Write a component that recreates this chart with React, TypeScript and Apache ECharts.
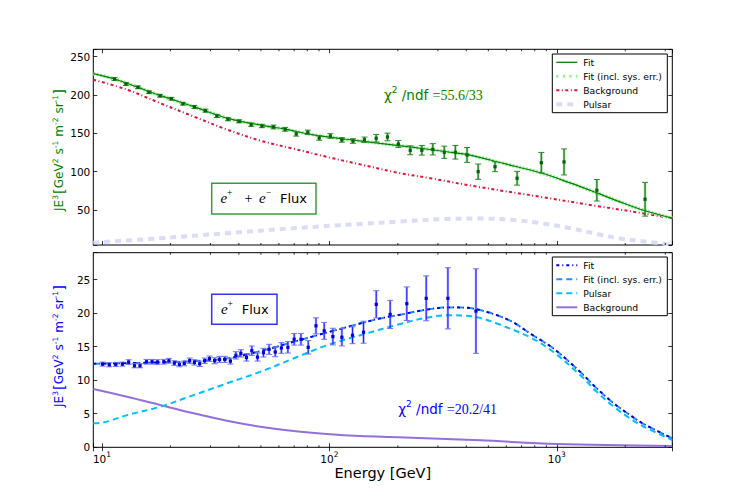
import React, { useEffect, useRef } from 'react';
import * as echarts from 'echarts';

// ---------- axis ranges / ticks ----------
const E_MIN = 9.16;
const E_MAX = 3220;
const TOP_Y_MIN = 4.3;
const TOP_Y_MAX = 259.7;
const BOT_Y_MIN = 0;
const BOT_Y_MAX = 29;
const minorTickE = [20, 30, 40, 50, 60, 70, 80, 90, 200, 300, 400, 500, 600, 700, 800, 900, 2000, 3000];

// ---------- top panel: e+ + e- flux ----------
const eTop = [11.36, 12.75, 14.4, 16.1, 18.0, 20.2, 22.7, 25.5, 28.5, 32.0, 35.8, 40.1, 45.3, 50.5, 56.8, 63.9, 71.5, 80.4, 90.2, 101, 113.5, 127, 142.6, 160.6, 180, 201, 226.7, 255, 285, 320, 358, 403, 451, 535, 669, 855, 1076, 1500, 2444];
const fluxTop = [220.9, 214.4, 210.1, 203.6, 199.1, 195.2, 188.7, 184.4, 179.6, 172.7, 168.4, 165.7, 161.3, 159.6, 158.3, 155.3, 149.2, 151.4, 144.0, 146.6, 141.4, 140.0, 141.7, 143.6, 145.3, 136.1, 127.9, 127.9, 129.2, 125.3, 125.3, 121.8, 100.0, 106.5, 91.4, 111.7, 112.7, 75.7, 64.0];
const errTop = [1.8, 1.8, 1.8, 1.8, 1.8, 1.8, 1.8, 2, 2, 2, 2, 2, 2.2, 2.2, 2.5, 2.5, 2.8, 2.8, 3, 3, 3, 3, 3.5, 5, 5, 4.5, 5.8, 6.3, 7.4, 8, 8.9, 9.7, 10, 6.5, 9, 13.4, 17, 14, 22];

const fitTopE = [9.16, 11.36, 14.4, 18, 25.5, 35.8, 50.5, 63.9, 85, 119, 167, 234, 328, 416, 582, 855, 1146, 1500, 1873, 2444, 3220];
const fitTopV = [228, 221, 210, 199.5, 184.5, 169.5, 160.5, 155.5, 148, 142.3, 137, 131.8, 126, 121.6, 110.8, 98.3, 85.3, 72.3, 61.2, 49, 39.3];

const bkgTopE = [9.16, 12.9, 18, 25.3, 35.4, 49.7, 69.5, 97.5, 136.6, 201, 277, 445, 855, 1500, 2444, 3220];
const bkgTopV = [220, 207, 189.5, 172, 155, 140.5, 130, 119.3, 109.5, 98.5, 91.5, 80.5, 67, 55.2, 45.2, 39];

const pulTopE = [9.16, 18, 35.4, 69.5, 136.6, 201, 328, 460, 645, 855, 1146, 1500, 1873, 2444, 3220];
const pulTopV = [7.4, 13.1, 19.7, 26.2, 31.8, 34.8, 38.3, 38.8, 37, 32.7, 26.2, 18.8, 13.1, 8.7, 4.8];

// ---------- bottom panel: e+ flux ----------
const eBot = [10.06, 10.77, 11.5, 12.3, 13.1, 13.9, 14.7, 15.7, 16.6, 17.55, 18.7, 19.7, 20.8, 21.9, 23.0, 24.3, 25.5, 26.9, 28.3, 29.7, 31.3, 32.9, 34.7, 36.7, 38.8, 40.8, 43.2, 45.6, 48.3, 51.3, 54.3, 57.8, 61.5, 65.7, 70.0, 75.0, 80.7, 87.3, 94.9, 103.6, 113.5, 126.4, 141.3, 160.7, 185, 219, 266.5, 332, 441];
const fluxBot = [12.4, 12.3, 12.35, 12.4, 12.7, 12.15, 12.15, 12.75, 12.75, 12.7, 12.75, 12.9, 12.55, 12.35, 12.5, 12.9, 12.65, 12.45, 12.9, 13.2, 12.9, 13.1, 13.1, 12.85, 13.7, 14.0, 13.4, 14.4, 13.45, 14.1, 14.6, 14.2, 14.8, 14.9, 16.1, 16.1, 14.9, 18.1, 17.35, 16.5, 16.4, 16.7, 17.15, 21.3, 19.8, 21.4, 22.2, 22.2, 20.3];
const errBot = [0.3, 0.3, 0.3, 0.3, 0.35, 0.3, 0.3, 0.35, 0.35, 0.35, 0.35, 0.35, 0.35, 0.35, 0.35, 0.4, 0.4, 0.4, 0.4, 0.4, 0.45, 0.45, 0.45, 0.45, 0.55, 0.55, 0.55, 0.7, 0.6, 0.65, 0.75, 0.7, 0.8, 0.85, 0.87, 0.87, 1.0, 1.19, 1.26, 1.24, 1.29, 1.26, 1.64, 2.03, 2.1, 2.5, 3.35, 4.56, 6.3];

const fitBotE = [9.16, 18, 25.3, 35.4, 49.7, 69.5, 97.5, 136.6, 167, 201, 265.6, 332.7, 402, 460, 545, 645, 763, 966, 1266, 1499, 1774, 2099, 2403, 3220];
const fitBotV = [12.45, 12.65, 12.84, 13.24, 14.33, 15.71, 17.1, 18.45, 19.2, 19.7, 20.5, 20.85, 20.8, 20.45, 19.69, 18.6, 16.96, 14.73, 11.25, 8.78, 6.6, 4.8, 3.5, 1.34];

const pulBotE = [9.16, 10.06, 12.9, 18, 25.3, 35.4, 49.7, 69.5, 97.5, 136.6, 201, 265.6, 332.7, 402, 460, 545, 763, 966, 1266, 1499, 1774, 2099, 2403, 3220];
const pulBotV = [3.57, 3.66, 4.8, 6.04, 7.78, 9.52, 11.25, 13.24, 15.2, 16.7, 18.3, 19.29, 19.69, 19.6, 19.29, 18.45, 16.4, 14.2, 10.76, 8.27, 6.1, 4.3, 3.1, 1.09];

const bkgBotE = [9.16, 12.9, 18, 25.3, 35.4, 49.7, 69.5, 97.5, 136.6, 201, 460, 1000, 3220];
const bkgBotV = [8.68, 7.53, 6.3, 5.06, 3.96, 3.07, 2.43, 1.98, 1.68, 1.5, 1.05, 0.5, 0.2];

// ---------- colours ----------
const GREEN = '#008000';
const BLUE = '#0000ff';

const zip = (xs: number[], ys: number[]) => xs.map((x, i) => [x, ys[i]]);

function errorBarSeries(xi: number, yi: number, e: number[], v: number[], err: number[], c: { light: string; dark: string; cap: string; mark: string }) {
  return {
    type: 'custom',
    xAxisIndex: xi,
    yAxisIndex: yi,
    silent: true,
    z: 10,
    data: e.map((x, i) => [x, v[i], err[i]]),
    encode: { x: 0, y: 1 },
    renderItem: (params: any, api: any) => {
      const x = api.value(0);
      const y = api.value(1);
      const er = api.value(2);
      const p = api.coord([x, y]);
      const hi = api.coord([x, y + er]);
      const lo = api.coord([x, y - er]);
      const cx = p[0];
      return {
        type: 'group',
        children: [
          { type: 'line', shape: { x1: cx, y1: hi[1], x2: cx, y2: lo[1] }, style: { stroke: c.light, lineWidth: 2.4 } },
          { type: 'line', shape: { x1: cx, y1: hi[1], x2: cx, y2: lo[1] }, style: { stroke: c.dark, lineWidth: 1 } },
          { type: 'line', shape: { x1: cx - 3, y1: hi[1], x2: cx + 3, y2: hi[1] }, style: { stroke: c.cap, lineWidth: 1 } },
          { type: 'line', shape: { x1: cx - 3, y1: lo[1], x2: cx + 3, y2: lo[1] }, style: { stroke: c.cap, lineWidth: 1 } },
          { type: 'rect', shape: { x: cx - 1.6, y: p[1] - 1.6, width: 3.2, height: 3.2 }, style: { fill: c.mark } },
        ],
      };
    },
  };
}

function minorTickSeries(xi: number, yi: number, yRef: number) {
  return {
    type: 'custom',
    xAxisIndex: xi,
    yAxisIndex: yi,
    silent: true,
    z: 20,
    data: minorTickE.map((x) => [x, yRef]),
    encode: { x: 0, y: 1 },
    renderItem: (params: any, api: any) => {
      const cs = params.coordSys;
      const x = api.coord([api.value(0), api.value(1)])[0];
      const b = cs.y + cs.height;
      return {
        type: 'group',
        children: [
          { type: 'line', shape: { x1: x, y1: b, x2: x, y2: b - 2 }, style: { stroke: '#000', lineWidth: 0.8 } },
          { type: 'line', shape: { x1: x, y1: cs.y, x2: x, y2: cs.y + 2 }, style: { stroke: '#000', lineWidth: 0.8 } },
        ],
      };
    },
  };
}

function lineSeries(xi: number, yi: number, e: number[], v: number[], color: string, width: number, type: any, z = 3) {
  return {
    type: 'line',
    xAxisIndex: xi,
    yAxisIndex: yi,
    data: zip(e, v),
    showSymbol: false,
    symbol: 'none',
    smooth: 0.35,
    silent: true,
    z,
    lineStyle: { color, width, type, cap: 'butt' },
  };
}

const isPow10 = (v: number) => {
  const l = Math.log10(v);
  return Math.abs(l - Math.round(l)) < 1e-6;
};

function xAxis(gridIndex: number, position: string, showLabel: boolean) {
  return {
    type: 'log',
    logBase: 10,
    gridIndex,
    position,
    min: E_MIN,
    max: E_MAX,
    axisLine: { show: false },
    axisTick: { show: true, inside: true, length: 4, lineStyle: { color: '#000', width: 0.8 } },
    splitLine: { show: false },
    minorTick: { show: false },
    minorSplitLine: { show: false },
    axisLabel: showLabel
      ? {
          show: true,
          margin: 3,
          color: '#000',
          formatter: (v: number) => (isPow10(v) ? `{b|10}{s|${Math.round(Math.log10(v))}}` : ''),
          rich: {
            b: { fontSize: 10.5, fontFamily: 'DejaVu Sans', color: '#000', lineHeight: 17 },
            s: { fontSize: 7.5, fontFamily: 'DejaVu Sans', color: '#000', verticalAlign: 'top', lineHeight: 9 },
          },
        }
      : { show: false },
  };
}

function yAxis(gridIndex: number, position: string, min: number, max: number, step: number, showLabel: boolean) {
  return {
    type: 'value',
    gridIndex,
    position,
    min,
    max,
    splitNumber: 5,
    axisLine: { show: false },
    axisTick: { show: true, inside: true, length: 4, lineStyle: { color: '#000', width: 0.8 } },
    splitLine: { show: false },
    axisLabel: showLabel
      ? {
          show: true,
          margin: 3,
          color: '#000',
          fontSize: 10.5,
          fontFamily: 'DejaVu Sans',
          formatter: (v: number) => (Math.abs(v / step - Math.round(v / step)) < 1e-6 ? String(v) : ''),
        }
      : { show: false },
  };
}

function legend(x: number, y: number, items: { label: string; color: string; width: number; dash: number[] | null }[]) {
  const els: any[] = [
    { type: 'rect', shape: { x, y, width: 115, height: 58.7 }, style: { fill: '#fff', stroke: '#000', lineWidth: 1 }, z: 100 },
  ];
  items.forEach((it, i) => {
    const ry = y + 8.3 + i * 14;
    els.push({
      type: 'line',
      shape: { x1: x + 4, y1: ry, x2: x + 25, y2: ry },
      style: { stroke: it.color, lineWidth: it.width, lineDash: it.dash || undefined, lineCap: 'butt' },
      z: 101,
    });
    els.push({
      type: 'text',
      x: x + 31,
      y: ry,
      style: { text: it.label, fill: '#000', fontSize: 9.2, fontFamily: 'DejaVu Sans', align: 'left', verticalAlign: 'middle' },
      z: 101,
    });
  });
  return els;
}

// pieces of the rotated y-axis title: [text, font size, superscript?, advance in px]
const yLabelPieces: [string, number, boolean, number][] = [
  ['JE', 12, false, 11.4],
  ['3', 7.5, true, 5.6],
  ['[', 14.5, false, 5.9],
  ['GeV', 12, false, 25.0],
  ['2', 7.5, true, 4.9],
  [' s', 12, false, 10.1],
  ['-1', 7.5, true, 7.6],
  [' m', 12, false, 15.6],
  ['-2', 7.5, true, 7.6],
  [' sr', 12, false, 15.0],
  ['-1', 7.5, true, 7.6],
  [']', 14.5, false, 5.9],
];

function yLabel(cx: number, cy: number, color: string) {
  const total = yLabelPieces.reduce((s, p) => s + p[3], 0);
  let pos = cy + total / 2;
  return yLabelPieces.map(([t, size, sup, adv]) => {
    const el = {
      type: 'text',
      x: sup ? cx - 4 : cx,
      y: pos,
      rotation: Math.PI / 2,
      z: 100,
      style: { text: t, fill: color, fontSize: size, fontFamily: 'DejaVu Sans', align: 'left', verticalAlign: 'middle' },
    };
    pos -= adv;
    return el;
  });
}

function chi2(x: number, y: number, value: string, color: string) {
  return {
    type: 'text',
    x,
    y,
    z: 100,
    style: {
      text: `{a|χ}{s|2}{a| /ndf }{m|=${value}}`,
      align: 'left',
      verticalAlign: 'middle',
      fill: color,
      rich: {
        a: { fontSize: 13.5, fontFamily: 'DejaVu Sans', fill: color, lineHeight: 20 },
        s: { fontSize: 9, fontFamily: 'DejaVu Sans', fill: color, verticalAlign: 'top', lineHeight: 11 },
        m: { fontSize: 14, fontFamily: 'Liberation Serif', fill: color, lineHeight: 20 },
      },
    },
  };
}

function txt(x: number, y: number, text: string, size: number, family: string, italic = false, align = 'left') {
  return {
    type: 'text',
    x,
    y,
    z: 101,
    style: { text, fill: '#000', fontSize: size, fontFamily: family, fontStyle: italic ? 'italic' : 'normal', align, verticalAlign: 'middle' },
  };
}

const graphics: any[] = [
  // top flux box
  { type: 'rect', shape: { x: 211.7, y: 183.3, width: 104.3, height: 30.7 }, style: { fill: '#fff', stroke: '#3c9a3c', lineWidth: 1.5 }, z: 100 },
  txt(220.5, 198, 'e', 15, 'Liberation Serif', true),
  txt(227, 193, '+', 9.5, 'Liberation Serif'),
  txt(244.5, 198.5, '+', 14, 'Liberation Serif'),
  txt(259, 198, 'e', 15, 'Liberation Serif', true),
  txt(266, 193, '−', 9.5, 'Liberation Serif'),
  txt(280, 198, 'Flux', 13, 'DejaVu Sans'),
  // bottom flux box
  { type: 'rect', shape: { x: 211.7, y: 294.3, width: 65.3, height: 30 }, style: { fill: '#fff', stroke: '#3333ff', lineWidth: 1.5 }, z: 100 },
  txt(221, 309, 'e', 15, 'Liberation Serif', true),
  txt(227.5, 304, '+', 9.5, 'Liberation Serif'),
  txt(241.7, 309, 'Flux', 13, 'DejaVu Sans'),
  chi2(384, 95, '55.6/33', GREEN),
  chi2(398.3, 409, '20.2/41', BLUE),
  ...yLabel(59, 150, GREEN),
  ...yLabel(59, 346, BLUE),
  ...legend(552.3, 54, [
    { label: 'Fit', color: GREEN, width: 1.3, dash: null },
    { label: 'Fit (incl. sys. err.)', color: '#90ee90', width: 3, dash: [2, 4.5] },
    { label: 'Background', color: '#dc143c', width: 2, dash: [3, 2.5, 1, 2.5] },
    { label: 'Pulsar', color: '#dcdcf5', width: 4, dash: [6, 5] },
  ]),
  ...legend(552.3, 257, [
    { label: 'Fit', color: '#0000cd', width: 2, dash: [3, 3, 1, 3] },
    { label: 'Fit (incl. sys. err.)', color: '#1e90ff', width: 2, dash: [6, 4] },
    { label: 'Pulsar', color: '#00bfff', width: 2, dash: [6, 4] },
    { label: 'Background', color: '#9370db', width: 2, dash: null },
  ]),
];

const option: any = {
  animation: false,
  backgroundColor: '#fff',
  textStyle: { fontFamily: 'DejaVu Sans' },
  grid: [
    { left: 93.3, top: 49.3, width: 579, height: 195.7, show: true, borderColor: '#000', borderWidth: 1, backgroundColor: 'transparent', containLabel: false, outerBoundsMode: 'none' },
    { left: 93.3, top: 252.7, width: 579, height: 194.6, show: true, borderColor: '#000', borderWidth: 1, backgroundColor: 'transparent', containLabel: false, outerBoundsMode: 'none' },
  ],
  xAxis: [
    xAxis(0, 'bottom', false),
    xAxis(0, 'top', false),
    {
      ...xAxis(1, 'bottom', true),
      name: 'Energy [GeV]',
      nameLocation: 'middle',
      nameGap: 13,
      nameTextStyle: { fontSize: 14.5, fontFamily: 'DejaVu Sans', color: '#000' },
    },
    xAxis(1, 'top', false),
  ],
  yAxis: [
    yAxis(0, 'left', TOP_Y_MIN, TOP_Y_MAX, 50, true),
    yAxis(0, 'right', TOP_Y_MIN, TOP_Y_MAX, 50, false),
    yAxis(1, 'left', BOT_Y_MIN, BOT_Y_MAX, 5, true),
    yAxis(1, 'right', BOT_Y_MIN, BOT_Y_MAX, 5, false),
  ],
  series: [
    // top panel
    lineSeries(0, 0, pulTopE, pulTopV, '#dcdcf5', 4, [6, 5], 2),
    lineSeries(0, 0, bkgTopE, bkgTopV, '#dc143c', 2, [3, 2.5, 1, 2.5], 3),
    lineSeries(0, 0, fitTopE, fitTopV, '#90ee90', 3.5, [2, 1.5], 3),
    lineSeries(0, 0, fitTopE, fitTopV, GREEN, 1.2, 'solid', 4),
    errorBarSeries(0, 0, eTop, fluxTop, errTop, { light: 'rgba(60,160,60,0.55)', dark: '#0b7a0b', cap: '#2e8b2e', mark: '#006400' }),
    minorTickSeries(0, 0, 100),
    // bottom panel
    lineSeries(2, 2, bkgBotE, bkgBotV, '#9370db', 2, 'solid', 2),
    lineSeries(2, 2, pulBotE, pulBotV, '#00bfff', 2, [6, 4], 3),
    lineSeries(2, 2, fitBotE, fitBotV, '#1e90ff', 2, [6, 4], 3),
    lineSeries(2, 2, fitBotE, fitBotV, '#0000cd', 1.8, [3, 3, 1, 3], 4),
    errorBarSeries(2, 2, eBot, fluxBot, errBot, { light: 'rgba(100,100,255,0.55)', dark: '#1a1aff', cap: '#7373ff', mark: '#0000dd' }),
    minorTickSeries(2, 2, 10),
  ],
  graphic: { elements: graphics },
};

export default function App() {
  const ref = useRef<HTMLDivElement>(null);
  useEffect(() => {
    if (!ref.current) return;
    const chart = echarts.init(ref.current, undefined, { renderer: 'svg' });
    chart.setOption(option);
    return () => chart.dispose();
  }, []);
  return <div ref={ref} style={{ position: 'absolute', left: 0, top: 0, width: 747, height: 498, background: '#fff' }} />;
}
